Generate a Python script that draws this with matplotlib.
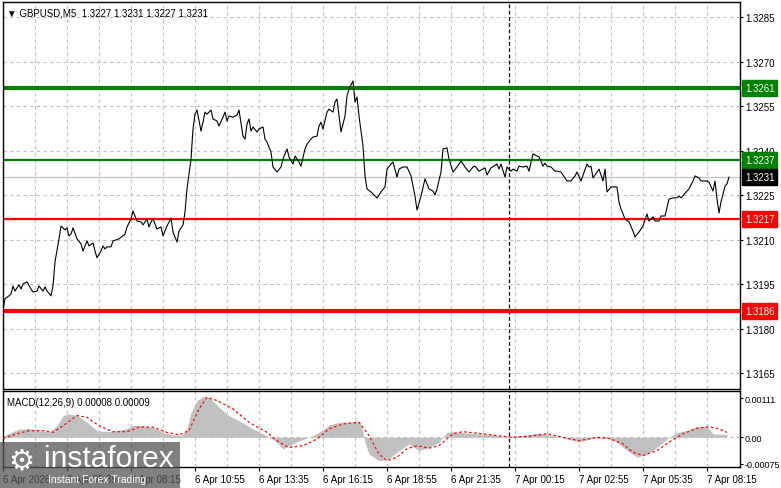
import matplotlib
matplotlib.use("Agg")
import matplotlib.pyplot as plt
from matplotlib.patches import Rectangle

plt.rcParams['font.family'] = ['Liberation Sans', 'DejaVu Sans']

# price path (bar index, close), M5 bars starting 6 Apr 02:55
bars = [0, 1, 3, 4, 5, 6, 8, 9, 10, 12, 14, 15, 17, 18, 20, 21, 22, 24, 25, 26,
        28, 29, 31, 32, 33, 34, 35, 37, 39, 40, 42, 43, 45, 46, 47, 49, 50, 51, 52, 54,
        55, 58, 60, 61, 62, 64, 65, 67, 69, 70, 72, 73, 74, 75, 77, 79, 80, 82, 84, 85,
        87, 88, 90, 91, 92, 94, 95, 96, 97, 99, 100, 101, 102, 104, 105, 107, 108, 110, 111, 112,
        113, 115, 117, 118, 120, 121, 122, 123, 124, 125, 127, 128, 130, 131, 132, 134, 135, 137, 139, 140,
        142, 143, 145, 146, 148, 149, 151, 152, 154, 155, 157, 158, 159, 160, 162, 163, 165, 166, 167, 169,
        171, 172, 173, 175, 176, 177, 178, 180, 181, 182, 184, 187, 189, 191, 192, 194, 195, 197, 198, 200,
        202, 204, 206, 207, 209, 211, 213, 215, 216, 217, 219, 220, 222, 223, 225, 227, 229, 231, 233, 235,
        236, 238, 241, 242, 244, 247, 248, 249, 251, 252, 254, 255, 257, 258, 260, 262, 263, 265, 267, 268,
        270, 271, 272, 274, 276, 277, 279, 282, 284, 286, 287, 289, 292, 293, 294, 295, 297, 298, 300, 301,
        302, 304, 306, 307, 308, 309, 311, 313, 315, 316, 318, 320, 322, 323, 325, 326, 328, 329, 331, 333,
        335, 337, 338, 339, 342, 343, 345, 346, 348, 349, 352, 353, 355, 356, 357, 358, 359, 360, 361, 362,
        363]
close = [1.31865, 1.31901, 1.31911, 1.31917, 1.31944, 1.31927, 1.31948, 1.31934, 1.31951, 1.31958,
         1.31934, 1.31924, 1.31927, 1.31944, 1.31927, 1.31941, 1.31927, 1.31911, 1.31944, 1.32025,
         1.32103, 1.32146, 1.32133, 1.32140, 1.32113, 1.32119, 1.32140, 1.32103, 1.32086, 1.32062,
         1.32096, 1.32079, 1.32089, 1.32062, 1.32039, 1.32062, 1.32079, 1.32069, 1.32076, 1.32076,
         1.32096, 1.32103, 1.32113, 1.32119, 1.32143, 1.32170, 1.32197, 1.32163, 1.32160, 1.32150,
         1.32170, 1.32143, 1.32160, 1.32170, 1.32136, 1.32143, 1.32113, 1.32146, 1.32173, 1.32126,
         1.32092, 1.32129, 1.32150, 1.32193, 1.32271, 1.32372, 1.32473, 1.32523, 1.32537, 1.32466,
         1.32496, 1.32530, 1.32523, 1.32537, 1.32507, 1.32500, 1.32483, 1.32513, 1.32530, 1.32500,
         1.32517, 1.32513, 1.32520, 1.32537, 1.32449, 1.32439, 1.32490, 1.32507, 1.32466, 1.32480,
         1.32463, 1.32473, 1.32480, 1.32439, 1.32429, 1.32395, 1.32345, 1.32328, 1.32345, 1.32372,
         1.32406, 1.32379, 1.32355, 1.32382, 1.32362, 1.32348, 1.32406, 1.32422, 1.32439, 1.32446,
         1.32449, 1.32483, 1.32496, 1.32473, 1.32530, 1.32540, 1.32530, 1.32564, 1.32574, 1.32463,
         1.32517, 1.32584, 1.32608, 1.32635, 1.32564, 1.32581, 1.32517, 1.32416, 1.32315, 1.32271,
         1.32261, 1.32241, 1.32261, 1.32278, 1.32338, 1.32355, 1.32362, 1.32311, 1.32338, 1.32345,
         1.32345, 1.32315, 1.32247, 1.32200, 1.32247, 1.32305, 1.32271, 1.32264, 1.32251, 1.32271,
         1.32328, 1.32406, 1.32409, 1.32372, 1.32328, 1.32345, 1.32365, 1.32345, 1.32328, 1.32345,
         1.32348, 1.32331, 1.32342, 1.32318, 1.32342, 1.32355, 1.32338, 1.32355, 1.32311, 1.32345,
         1.32331, 1.32338, 1.32331, 1.32348, 1.32345, 1.32348, 1.32331, 1.32389, 1.32382, 1.32379,
         1.32348, 1.32358, 1.32348, 1.32345, 1.32331, 1.32331, 1.32328, 1.32298, 1.32298, 1.32315,
         1.32328, 1.32298, 1.32355, 1.32345, 1.32348, 1.32308, 1.32328, 1.32338, 1.32298, 1.32338,
         1.32261, 1.32278, 1.32278, 1.32278, 1.32227, 1.32204, 1.32170, 1.32160, 1.32129, 1.32109,
         1.32126, 1.32146, 1.32187, 1.32163, 1.32177, 1.32163, 1.32163, 1.32180, 1.32180, 1.32237,
         1.32241, 1.32241, 1.32247, 1.32241, 1.32264, 1.32271, 1.32298, 1.32315, 1.32308, 1.32298,
         1.32298, 1.32294, 1.32264, 1.32298, 1.32237, 1.32190, 1.32227, 1.32254, 1.32281, 1.32288,
         1.32311]

# MACD histogram and signal line
hist_bars = [0, 4, 8, 13, 18, 23, 27, 30, 33, 37, 42, 47, 52, 57, 62, 65, 70, 75, 80, 85,
             89, 92, 94, 97, 100, 103, 108, 113, 118, 125, 130, 133, 137, 140, 143, 148, 153, 158, 163, 168,
             173, 177, 179, 181, 183, 188, 193, 198, 203, 208, 213, 218, 222, 225, 232, 238, 247, 255, 262, 268,
             275, 282, 288, 295, 302, 307, 312, 317, 322, 327, 332, 337, 342, 347, 352, 355, 362]
hist_vals = [0.00003, 0.00014, 0.00023, 0.00025, 0.00019, 0.00015, 0.00033, 0.00062, 0.00067, 0.00062,
             0.00043, 0.00019, 0.00016, 0.00019, 0.00025, 0.00035, 0.00033, 0.00028, 0.00014, 0.00007,
             0.00005, 0.00024, 0.00071, 0.00105, 0.00117, 0.00114, 0.00086, 0.00062, 0.00047, 0.00024,
             0.00010, 0.0, -0.00014, -0.00033, -0.00024, -0.00010, 0.0, 0.00014, 0.00035, 0.00043,
             0.00043, 0.00047, 0.00038, -0.00014, -0.00048, -0.00067, -0.00062, -0.00038, -0.00019, -0.00038,
             -0.00029, -0.00014, 0.00014, 0.00016, 0.00012, 0.00010, 0.00005, 0.00003, 0.00007, 0.00012,
             0.00005, -0.00005, -0.00013, -0.00003, -0.00003, -0.00014, -0.00038, -0.00057, -0.00048, -0.00029,
             -0.00005, 0.00014, 0.00019, 0.00031, 0.00031, 0.00010, 0.00008]
sig_bars = [0, 7, 13, 20, 25, 30, 37, 42, 48, 55, 62, 68, 75, 82, 88, 93, 98, 102, 107, 115,
            123, 132, 138, 143, 150, 157, 163, 170, 178, 183, 188, 192, 197, 202, 207, 213, 218, 225, 230, 238,
            247, 255, 263, 272, 280, 288, 297, 303, 310, 315, 320, 327, 333, 340, 347, 353, 358, 362]
sig_vals = [-0.00003, 0.00010, 0.00019, 0.00019, 0.00014, 0.00033, 0.00062, 0.00057, 0.00033, 0.00016,
            0.00016, 0.00029, 0.00029, 0.00014, 0.00007, 0.00019, 0.00081, 0.00114, 0.00105, 0.00081,
            0.00043, 0.00014, -0.00014, -0.00029, -0.00024, -0.00005, 0.00024, 0.00038, 0.00043, 0.00005,
            -0.00048, -0.00067, -0.00057, -0.00033, -0.00024, -0.00031, -0.00024, 0.00010, 0.00016, 0.00011,
            0.00005, 0.0, 0.00003, 0.00010, 0.0, -0.00010, 0.0, -0.00003, -0.00019, -0.00043,
            -0.00052, -0.00038, -0.00014, 0.00010, 0.00026, 0.00030, 0.00024, 0.00014]

# levels
levels = [1.3261, 1.3237, 1.3217, 1.3186]
level_colors = ["#008000", "#008000", "#ff0000", "#ff0000"]
level_widths = [3.0, 1.6, 1.6, 3.0]
last_price = 1.3231

price_ticks = [1.3285, 1.3270, 1.3255, 1.3240, 1.3225, 1.3210, 1.3195, 1.3180, 1.3165]
macd_ticks = [0.00111, 0.0, -0.00075]
macd_tick_labels = ["0.00111", "0.00", "-0.00075"]
time_ticks = [0, 32, 64, 96, 128, 160, 192, 224, 256, 288, 320, 352]
time_labels = ["6 Apr 2026", "6 Apr 05:35", "6 Apr 08:15", "6 Apr 10:55", "6 Apr 13:35",
               "6 Apr 16:15", "6 Apr 18:55", "6 Apr 21:35", "7 Apr 00:15", "7 Apr 02:55",
               "7 Apr 05:35", "7 Apr 08:15"]
day_sep = 253

fs = 7.0
fig = plt.figure(figsize=(7.81, 4.89), dpi=100)
ax = fig.add_axes([3/781, 99/489, 737/781, 387/489])
ax2 = fig.add_axes([3/781, 21/489, 737/781, 76/489])

xmax = 368.5
grid_kw = dict(color="#c0c0c0", lw=0.8, ls=(0, (3, 3)), zorder=0)
for a in (ax, ax2):
    for g in range(16, int(xmax), 16):
        a.axvline(g, **grid_kw)
    a.axvline(day_sep, color="black", lw=0.9, ls=(0, (3, 2)), zorder=1)
    a.set_xlim(0, xmax)
    for s in a.spines.values():
        s.set_linewidth(1.0)
    a.yaxis.tick_right()
    a.tick_params(axis="y", length=2.5, width=0.8, labelsize=fs, pad=1)
    a.tick_params(axis="x", length=3, width=0.8, labelsize=fs, pad=2)
ax2.tick_params(axis="y", labelsize=6.5, pad=0.8)

for p in price_ticks:
    ax.axhline(p, **grid_kw)
ax.axhline(last_price, color="#c0c0c0", lw=0.9, zorder=1)
for lv, c, w in zip(levels, level_colors, level_widths):
    ax.axhline(lv, color=c, lw=w, zorder=2)
ax.plot(bars, close, color="black", lw=0.8, zorder=3)
ax.set_ylim(1.31597, 1.32901)
ax.set_yticks(price_ticks)
ax.set_yticklabels([f"{p:.4f}" for p in price_ticks])
ax.set_xticks([])

# price boxes on the right scale
for lv, c in zip(levels + [last_price], level_colors + ["black"]):
    ax.annotate(f"{lv:.4f}", xy=(1.0, lv), xycoords=("axes fraction", "data"),
                xytext=(3.5, 0), textcoords="offset points", va="center", ha="left",
                fontsize=fs, color="white", zorder=5, annotation_clip=False,
                bbox=dict(boxstyle="square,pad=0.3", fc=c, ec=c))

ax.text(0.006, 0.985, "\u25bc GBPUSD,M5  1.3227 1.3231 1.3227 1.3231", transform=ax.transAxes,
        fontsize=fs, va="top", ha="left")

# MACD panel
ax2.axhline(0, **grid_kw)
ax2.fill_between(hist_bars, hist_vals, 0, color="#c0c0c0", lw=0, zorder=2)
ax2.plot(sig_bars, sig_vals, color="red", lw=0.9, ls=(0, (2, 2)), zorder=3)
ax2.set_ylim(-0.000849, 0.001323)
ax2.set_yticks(macd_ticks)
ax2.set_yticklabels(macd_tick_labels)
ax2.set_xticks(time_ticks)
ax2.set_xticklabels(time_labels, ha="left")
ax2.text(0.005, 0.92, "MACD(12,26,9) 0.00008 0.00009", transform=ax2.transAxes,
         fontsize=fs, va="top", ha="left")

# watermark
fig.patches.append(Rectangle((0, 0), 180/781, 46/489, transform=fig.transFigure,
                             fc="#555555", alpha=0.75, zorder=10))
fig.text(8/781, 28/489, "\u2699", color="white", fontsize=21, va="center", ha="left",
         zorder=11, family="DejaVu Sans")
fig.text(44/781, 30/489, "instaforex", color="white", fontsize=21.5, va="center", ha="left", zorder=11)
fig.text(48/781, 9/489, "Instant Forex Trading", color="white", fontsize=7.5, va="center", ha="left", zorder=11)

fig.savefig("out.png", dpi=100)
